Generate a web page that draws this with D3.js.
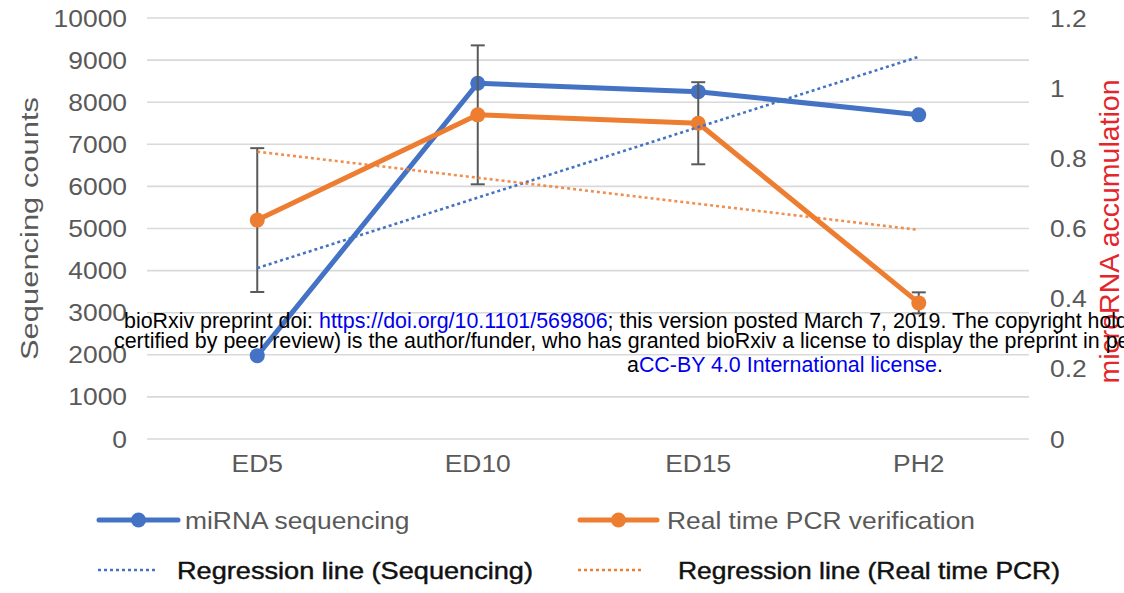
<!DOCTYPE html>
<html>
<head>
<meta charset="utf-8">
<script src="https://cdn.jsdelivr.net/npm/d3@7/dist/d3.min.js"></script>
<style>
  html, body { margin: 0; padding: 0; background: #fff; overflow: hidden; }
  svg { display: block; font-family: "Liberation Sans", Arial, Helvetica, sans-serif; }
</style>
</head>
<body>
<svg id="chart" width="1124" height="593"></svg>
<script>
// Stages of development
const categories = ["ED5", "ED10", "ED15", "PH2"];
// miRNA sequencing counts (left axis)
const seqCounts = [1980, 8450, 8250, 7700];
// Real time PCR relative accumulation (right axis) and its error
const pcrLevels = [0.624, 0.924, 0.90, 0.388];
const pcrErrors = [0.205, 0.198, 0.117, 0.03];
// Trend line end values at the first and last stage
const trendStages = ["ED5", "PH2"];
const seqTrend = [4060, 9080];
const pcrTrend = [0.819, 0.596];
// Axis labels
const leftTitle = "Sequencing counts";
const rightTitle = "microRNA accumulation";
const legendLabels = ["miRNA sequencing", "Real time PCR verification",
                      "Regression line (Sequencing)", "Regression line (Real time PCR)"];

const BLUE = "#4472C4", ORANGE = "#ED7D31", GREY = "#595959";
const SX = 1.1; // horizontal stretch of chart lettering

const svg = d3.select("#chart");

const x = d3.scaleBand().domain(categories).range([147, 1029]).padding(0);
const cx = c => x(c) + x.bandwidth() / 2;
const yL = d3.scaleLinear().domain([0, 10000]).range([439, 18]);
const yR = d3.scaleLinear().domain([0, 1.2]).range([439, 18]);

function label(g, tx, ty, text, opts) {
  const t = g.append("text")
    .attr("transform", `translate(${tx},${ty}) scale(${opts.sx || SX},1)`)
    .attr("text-anchor", opts.anchor || "start")
    .attr("font-size", opts.size || 24)
    .attr("fill", opts.fill || GREY)
    .text(text);
  return t;
}

// gridlines
const grid = svg.append("g");
grid.selectAll("line").data(yL.ticks(10)).join("line")
  .attr("x1", 147).attr("x2", 1029)
  .attr("y1", d => yL(d)).attr("y2", d => yL(d))
  .attr("stroke", "#d9d9d9").attr("stroke-width", 1.6);

// left tick labels
const gl = svg.append("g");
yL.ticks(10).forEach(t => label(gl, 127, yL(t) + 8.5, String(t), { anchor: "end" }));

// right tick labels
const gr = svg.append("g");
const fmtR = d3.format("~g");
yR.ticks(6).forEach(t => label(gr, 1050, yR(t) + 8.5, fmtR(t), { anchor: "start" }));

// category labels
const gx = svg.append("g");
categories.forEach(c => label(gx, cx(c), 472, c, { anchor: "middle" }));

// axis titles
svg.append("text")
  .attr("transform", "translate(38,228.5) rotate(-90)")
  .attr("text-anchor", "middle")
  .attr("font-size", 23)
  .attr("fill", GREY)
  .attr("textLength", 263).attr("lengthAdjust", "spacingAndGlyphs")
  .text(leftTitle);
svg.append("text")
  .attr("transform", "translate(1119,231.5) rotate(-90)")
  .attr("text-anchor", "middle")
  .attr("font-size", 28.5)
  .attr("fill", "#e3262b")
  .text(rightTitle);

// sequencing series
const lineL = d3.line().x((d, i) => cx(categories[i])).y(d => yL(d));
svg.append("path").datum(seqCounts)
  .attr("d", lineL).attr("fill", "none")
  .attr("stroke", BLUE).attr("stroke-width", 5).attr("stroke-linejoin", "round");
svg.append("g").selectAll("circle").data(seqCounts).join("circle")
  .attr("cx", (d, i) => cx(categories[i])).attr("cy", d => yL(d))
  .attr("r", 7.5).attr("fill", BLUE);

// PCR error bars
const eb = svg.append("g").attr("stroke", "#5a5a5a").attr("stroke-width", 2);
pcrLevels.forEach((v, i) => {
  const px = cx(categories[i]);
  const top = yR(v + pcrErrors[i]), bot = yR(v - pcrErrors[i]);
  eb.append("line").attr("x1", px).attr("x2", px).attr("y1", top).attr("y2", bot);
  eb.append("line").attr("x1", px - 7).attr("x2", px + 7).attr("y1", top).attr("y2", top);
  eb.append("line").attr("x1", px - 7).attr("x2", px + 7).attr("y1", bot).attr("y2", bot);
});

// PCR series
const lineR = d3.line().x((d, i) => cx(categories[i])).y(d => yR(d));
svg.append("path").datum(pcrLevels)
  .attr("d", lineR).attr("fill", "none")
  .attr("stroke", ORANGE).attr("stroke-width", 5).attr("stroke-linejoin", "round");
svg.append("g").selectAll("circle").data(pcrLevels).join("circle")
  .attr("cx", (d, i) => cx(categories[i])).attr("cy", d => yR(d))
  .attr("r", 7.5).attr("fill", ORANGE);

// trend lines
svg.append("path").datum(seqTrend)
  .attr("d", d3.line().x((d, i) => cx(trendStages[i])).y(d => yL(d)))
  .attr("fill", "none").attr("stroke", BLUE).attr("stroke-width", 2.6)
  .attr("stroke-dasharray", "3 3");
svg.append("path").datum(pcrTrend)
  .attr("d", d3.line().x((d, i) => cx(trendStages[i])).y(d => yR(d)))
  .attr("fill", "none").attr("stroke", ORANGE).attr("stroke-width", 2.6)
  .attr("stroke-opacity", 0.85).attr("stroke-dasharray", "3 3");

// legend
const lg = svg.append("g");
function solidKey(x0, x1, y, color) {
  lg.append("line").attr("x1", x0).attr("x2", x1).attr("y1", y).attr("y2", y)
    .attr("stroke", color).attr("stroke-width", 5).attr("stroke-linecap", "round");
  lg.append("circle").attr("cx", (x0 + x1) / 2).attr("cy", y).attr("r", 7.5).attr("fill", color);
}
function dotKey(x0, x1, y, color) {
  lg.append("line").attr("x1", x0).attr("x2", x1).attr("y1", y).attr("y2", y)
    .attr("stroke", color).attr("stroke-width", 2.6).attr("stroke-dasharray", "3 3");
}
solidKey(99, 178, 520, BLUE);
label(lg, 185, 528.5, legendLabels[0], {});
solidKey(580, 657, 520, ORANGE);
label(lg, 667, 528.5, legendLabels[1], {});
dotKey(98, 156, 570, BLUE);
lg.append("text").attr("x", 177).attr("y", 578.5)
  .attr("font-size", 24).attr("fill", "#111").attr("stroke", "#111").attr("stroke-width", 0.45)
  .attr("textLength", 356).attr("lengthAdjust", "spacingAndGlyphs")
  .text(legendLabels[2]);
dotKey(578, 644, 570, ORANGE);
lg.append("text").attr("x", 678).attr("y", 578.5)
  .attr("font-size", 24).attr("fill", "#111").attr("stroke", "#111").attr("stroke-width", 0.45)
  .attr("textLength", 382).attr("lengthAdjust", "spacingAndGlyphs")
  .text(legendLabels[3]);

// preprint notice
const note = svg.append("g").attr("font-size", 21.4).attr("fill", "#000");
const l1 = note.append("text").attr("x", 124).attr("y", 328);
l1.append("tspan").text("bioRxiv preprint doi: ");
l1.append("tspan").attr("fill", "#0000ee").text("https://doi.org/10.1101/569806");
l1.append("tspan").text("; this version posted March 7, 2019. The copyright holder for this preprint (which was not");
note.append("text").attr("x", 114).attr("y", 347.5)
  .text("certified by peer review) is the author/funder, who has granted bioRxiv a license to display the preprint in perpetuity. It is made available under");
const l3 = note.append("text").attr("x", 627).attr("y", 372);
l3.append("tspan").text("a");
l3.append("tspan").attr("fill", "#0000ee").text("CC-BY 4.0 International license");
l3.append("tspan").text(".");
</script>
</body>
</html>
